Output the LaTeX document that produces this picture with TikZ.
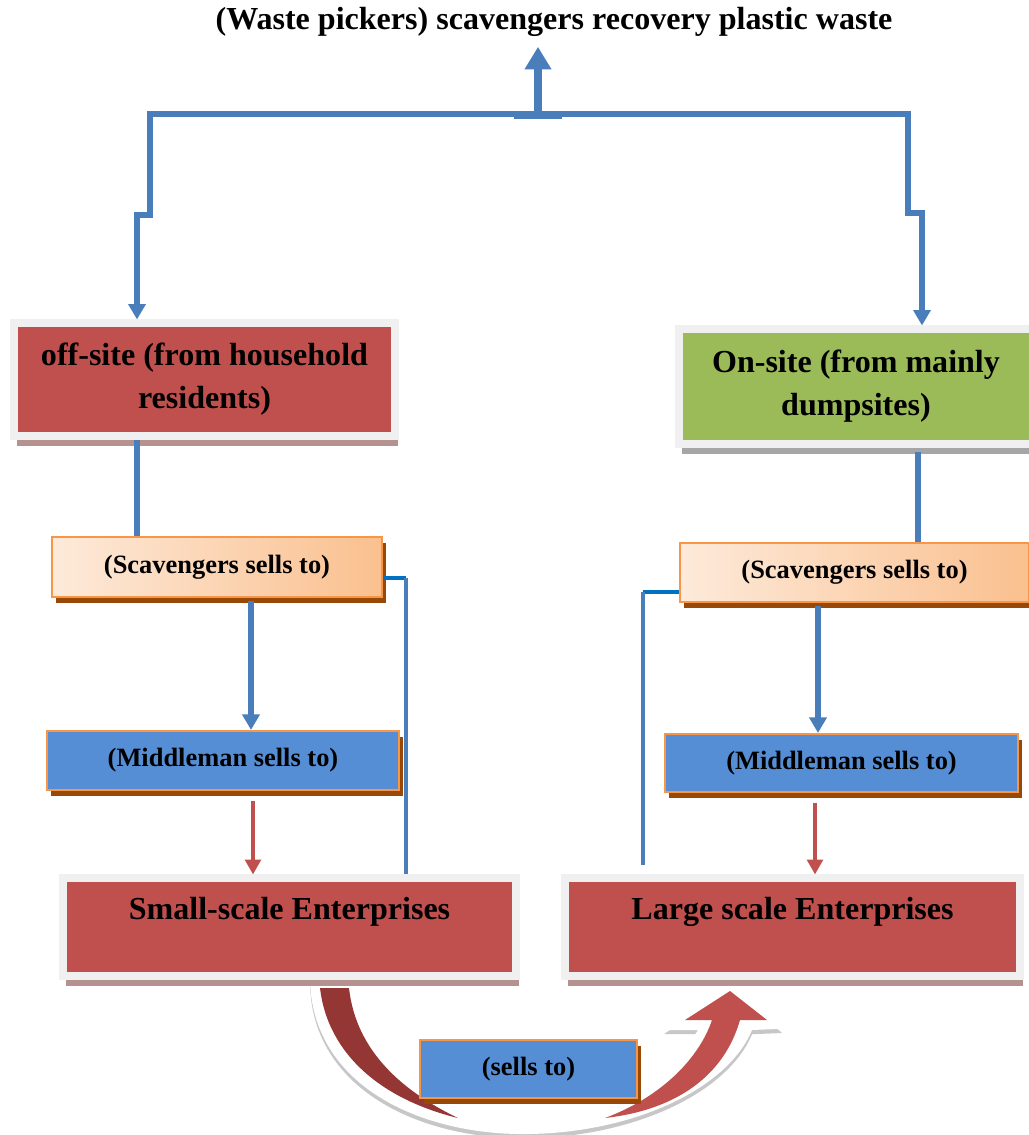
\documentclass[tikz,border=0pt]{standalone}
\usepackage{fontspec}
\setmainfont{Liberation Serif}
\usepackage{tikz}
\usetikzlibrary{arrows.meta,positioning,shadows}
\definecolor{boxred}{HTML}{C0504D}
\definecolor{darkred}{HTML}{943634}
\definecolor{boxgreen}{HTML}{9BBB59}
\definecolor{boxblue}{HTML}{558ED5}
\definecolor{lineblue}{HTML}{4A7EBB}
\definecolor{stubblue}{HTML}{0070C0}
\definecolor{boxorange}{HTML}{F79646}
\definecolor{peachdark}{HTML}{FAC08F}
\definecolor{peachlight}{HTML}{FDEADA}
\definecolor{shadebrown}{HTML}{984807}
\definecolor{shadered}{HTML}{B59290}
\definecolor{framegray}{HTML}{F0F0F0}

\begin{document}
\begin{tikzpicture}[>=Stealth,
    big/.style = {draw=framegray, line width=5pt, fill=boxred, align=center,
        font=\bfseries\fontsize{22.8}{30.5}\selectfont,
        drop shadow={shadow xshift=2pt, shadow yshift=-7pt, fill=shadered, opacity=1}},
    ent/.style = {big, text height=16pt, text depth=26pt},
    small/.style = {draw=boxorange, line width=1.5pt, fill=boxblue,
        font=\bfseries\fontsize{18.8}{22}\selectfont,
        drop shadow={shadow xshift=3pt, shadow yshift=-4pt, fill=shadebrown, opacity=1}},
    peach/.style = {small, left color=peachlight, right color=peachdark},
    bluearrow/.style = {lineblue, line width=4pt, -{Triangle[width=12pt,length=11pt]}},
    toparrow/.style = {lineblue, line width=5.7pt, -{Triangle[width=18pt,length=16pt]}},
    blueline/.style = {lineblue, line width=4pt},
    thinline/.style = {lineblue, line width=2.2pt},
    stub/.style = {stubblue, line width=3pt},
    redarrow/.style = {boxred, line width=2.8pt, -{Triangle[width=11pt,length=10.5pt]}}]
    \useasboundingbox (0,0) rectangle (25.725,-28.375);

    % Curved arrow (sells to)
    \fill[white, drop shadow={shadow xshift=0pt, shadow yshift=-3pt, fill=black!22, opacity=1}]
        (7.75,-24.55) .. controls (7.85,-27.2) and (10.6,-28.4) .. (13.25,-28.35)
        .. controls (15.9,-28.3) and (18.2,-27.2) .. (18.8,-25.75)
        -- (19.55,-25.72) -- (18.25,-24.58) -- (16.6,-25.75) -- (17.45,-25.75)
        .. controls (16.7,-27.0) and (15.0,-27.65) .. (13.25,-27.65)
        .. controls (11.2,-27.65) and (9.3,-26.6) .. (9.0,-24.55) -- cycle;
    \fill[darkred] (8.0,-24.7) .. controls (8.2,-26.4) and (9.6,-27.5) .. (11.45,-27.95)
        .. controls (10.1,-27.3) and (8.9,-26.3) .. (8.725,-24.7) -- cycle;
    \fill[boxred] (15.125,-27.95) .. controls (16.6,-27.4) and (17.5,-26.4) .. (17.8,-25.5)
        -- (17.125,-25.5) -- (18.25,-24.775) -- (19.175,-25.5) -- (18.5,-25.5)
        .. controls (18.1,-26.9) and (16.9,-27.75) .. (15.125,-27.95) -- cycle;

    % Nodes
    \node[font=\bfseries\fontsize{22.8}{26}\selectfont, inner sep=7pt] (title) at (13.85,-0.55)
        {(Waste pickers) scavengers recovery plastic waste};
    \node[big, minimum width=9.525cm, minimum height=2.825cm] (offsite) at (5.1125,-9.4875)
        {off-site (from household\\ residents)};
    \node[big, fill=boxgreen, minimum width=8.85cm, minimum height=2.875cm,
        drop shadow={shadow xshift=2pt, shadow yshift=-7pt, fill=black!35, opacity=1}] (onsite) at (21.4,-9.6625)
        {On-site (from mainly\\ dumpsites)};
    \node[peach, minimum width=8.25cm, minimum height=1.5cm] (scavL) at (5.425,-14.175) {(Scavengers sells to)};
    \node[peach, minimum width=8.725cm, minimum height=1.475cm] (scavR) at (21.3625,-14.3125) {(Scavengers sells to)};
    \node[small, minimum width=8.8cm, minimum height=1.475cm] (midL) at (5.575,-19.0125) {(Middleman sells to)};
    \node[small, minimum width=8.825cm, minimum height=1.45cm] (midR) at (21.0375,-19.075) {(Middleman sells to)};
    \node[ent, minimum width=11.325cm, minimum height=2.45cm] (smallE) at (7.2375,-23.175) {Small-scale Enterprises};
    \node[ent, minimum width=11.375cm, minimum height=2.45cm] (largeE) at (19.8125,-23.175) {Large scale Enterprises};
    \node[small, minimum width=5.425cm, minimum height=1.45cm] (sells) at (13.2125,-26.725) {(sells to)};

    % Junctions
    \coordinate (jtop) at (13.45,-2.85);
    \coordinate (jL1) at (3.75,-2.85);
    \coordinate (jL2) at (3.75,-5.375);
    \coordinate (jL3) at (3.425,-5.375);
    \coordinate (jR1) at (22.7,-2.85);
    \coordinate (jR2) at (22.7,-5.325);
    \coordinate (jR3) at (23.05,-5.325);
    \coordinate (nL) at (12.85,-2.9);
    \coordinate (nR) at (14.05,-2.9);
    \coordinate (kL) at (10.15,-14.45);
    \coordinate (kR) at (16.075,-14.8);

    % Edges
    \draw[toparrow] (jtop) -- (jtop |- title.south);
    \draw[bluearrow] (jtop) -- (jL1) -- (jL2) -- (jL3) -- (jL3 |- offsite.north);
    \draw[bluearrow] (jtop) -- (jR1) -- (jR2) -- (jR3) -- (jR3 |- onsite.north);
    \draw[blueline] (nL) -- (nR);

    \draw[blueline] (offsite.south -| jL3) -- (scavL.north -| jL3);
    \draw[bluearrow, shorten <=2pt] (scavL.south -| 6.275,0) -- (midL.north -| 6.275,0);
    \draw[redarrow, shorten <=7pt] (midL.south -| 6.325,0) -- (smallE.north -| 6.325,0);
    \draw[stub] (kL -| scavL.east) -- (kL);
    \draw[thinline] (kL) -- (kL |- smallE.north);

    \draw[blueline, shorten <=3pt] (onsite.south -| 22.95,0) -- (scavR.north -| 22.95,0);
    \draw[bluearrow, shorten <=2pt] (scavR.south -| 20.45,0) -- (midR.north -| 20.45,0);
    \draw[redarrow, shorten <=7pt] (midR.south -| 20.375,0) -- (largeE.north -| 20.375,0);
    \draw[stub] (kR -| scavR.west) -- (kR);
    \draw[thinline, shorten >=7pt] (kR) -- (kR |- largeE.north);
\end{tikzpicture}
\end{document}
